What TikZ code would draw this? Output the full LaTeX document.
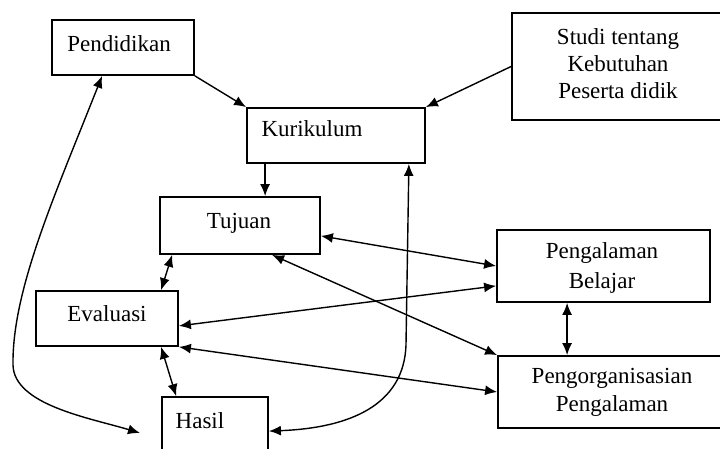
\documentclass[tikz,border=0pt]{standalone}
\usepackage{fontspec}
\setmainfont{Liberation Serif}
\usetikzlibrary{arrows.meta,fit,calc}
\begin{document}
\begin{tikzpicture}[x=0.5pt,y=-0.5pt,
  box/.style={draw,line width=0.9pt,inner sep=0pt,rectangle},
  lbl/.style={inner sep=0pt,font=\fontsize{11.5}{13.5}\selectfont,align=center},
  conn/.style={line width=0.7pt,{Latex[length=6pt,width=5pt]}-{Latex[length=6pt,width=5pt]}},
  one/.style={line width=0.7pt,-{Latex[length=6pt,width=5pt]}}]
\clip (0,0) rectangle (720,449);
\fill[white] (0,0) rectangle (720,449);
% boxes
\node[box,fit={(52,20)(194,75)}] (pend) {};
\node[box,fit={(247,108)(425,163)}] (kur) {};
\node[box,fit={(512,13)(760,120)}] (studi) {};
\node[box,fit={(160,197)(320,254)}] (tuj) {};
\node[box,fit={(497,230)(710,302)}] (pb) {};
\node[box,fit={(36,291)(178,346)}] (ev) {};
\node[box,fit={(498,356)(760,428)}] (po) {};
\node[box,fit={(162,397)(268,470)}] (hasil) {};
% labels
\node[lbl] (tpend) at (119,44) {Pendidikan};
\node[lbl] (tkur) at (312,129) {Kurikulum};
\node[lbl,font=\fontsize{11.5}{13.5}\selectfont] (tstudi) at (618,64) {Studi tentang\\Kebutuhan\\Peserta didik};
\node[lbl] (ttuj) at (239,223) {Tujuan};
\node[lbl,font=\fontsize{11.5}{15}\selectfont] (tpb) at (602,268) {Pengalaman\\Belajar};
\node[lbl] (tev) at (107,314) {Evaluasi};
\node[lbl,font=\fontsize{11.5}{14}\selectfont] (tpo) at (612,392) {Pengorganisasian\\Pengalaman};
\node[lbl] (thasil) at (200,421) {Hasil};
% connectors
\draw[one] (pend.south east) -- (kur.north west);
\draw[one] (studi.west) -- (kur.north east);
\draw[one] ($(kur.south west)+(19,0)$) -- ($(tuj.north west)+(106,0)$);
\draw[conn] ($(tuj.south east)+(0,-19)$) -- (pb.west);
\draw[conn] ($(tuj.south west)+(113,0)$) -- (po.north west);
\draw[conn] ($(ev.south east)+(0,-21)$) -- ($(pb.south west)+(0,-17)$);
\draw[conn] (ev.south east) -- (po.west);
\draw[conn] ($(tuj.south west)+(13,0)$) -- ($(ev.north west)+(126,0)$);
\draw[conn] ($(ev.south west)+(126,0)$) -- ($(hasil.north west)+(15,0)$);
\draw[conn] ($(pb.south west)+(71,0)$) -- ($(po.north west)+(70,0)$);
\coordinate (lend) at (140,433);
\draw[conn] ($(pend.south west)+(51,0)$) .. controls (55,195) and (12,290) .. (13,365) .. controls (14,405) and (90,418) .. (lend);
\draw[conn] ($(kur.south east)+(-17,0)$) -- (406,345) .. controls (404,405) and (350,428) .. ($(hasil.north east)+(0,35)$);
\end{tikzpicture}
\end{document}
